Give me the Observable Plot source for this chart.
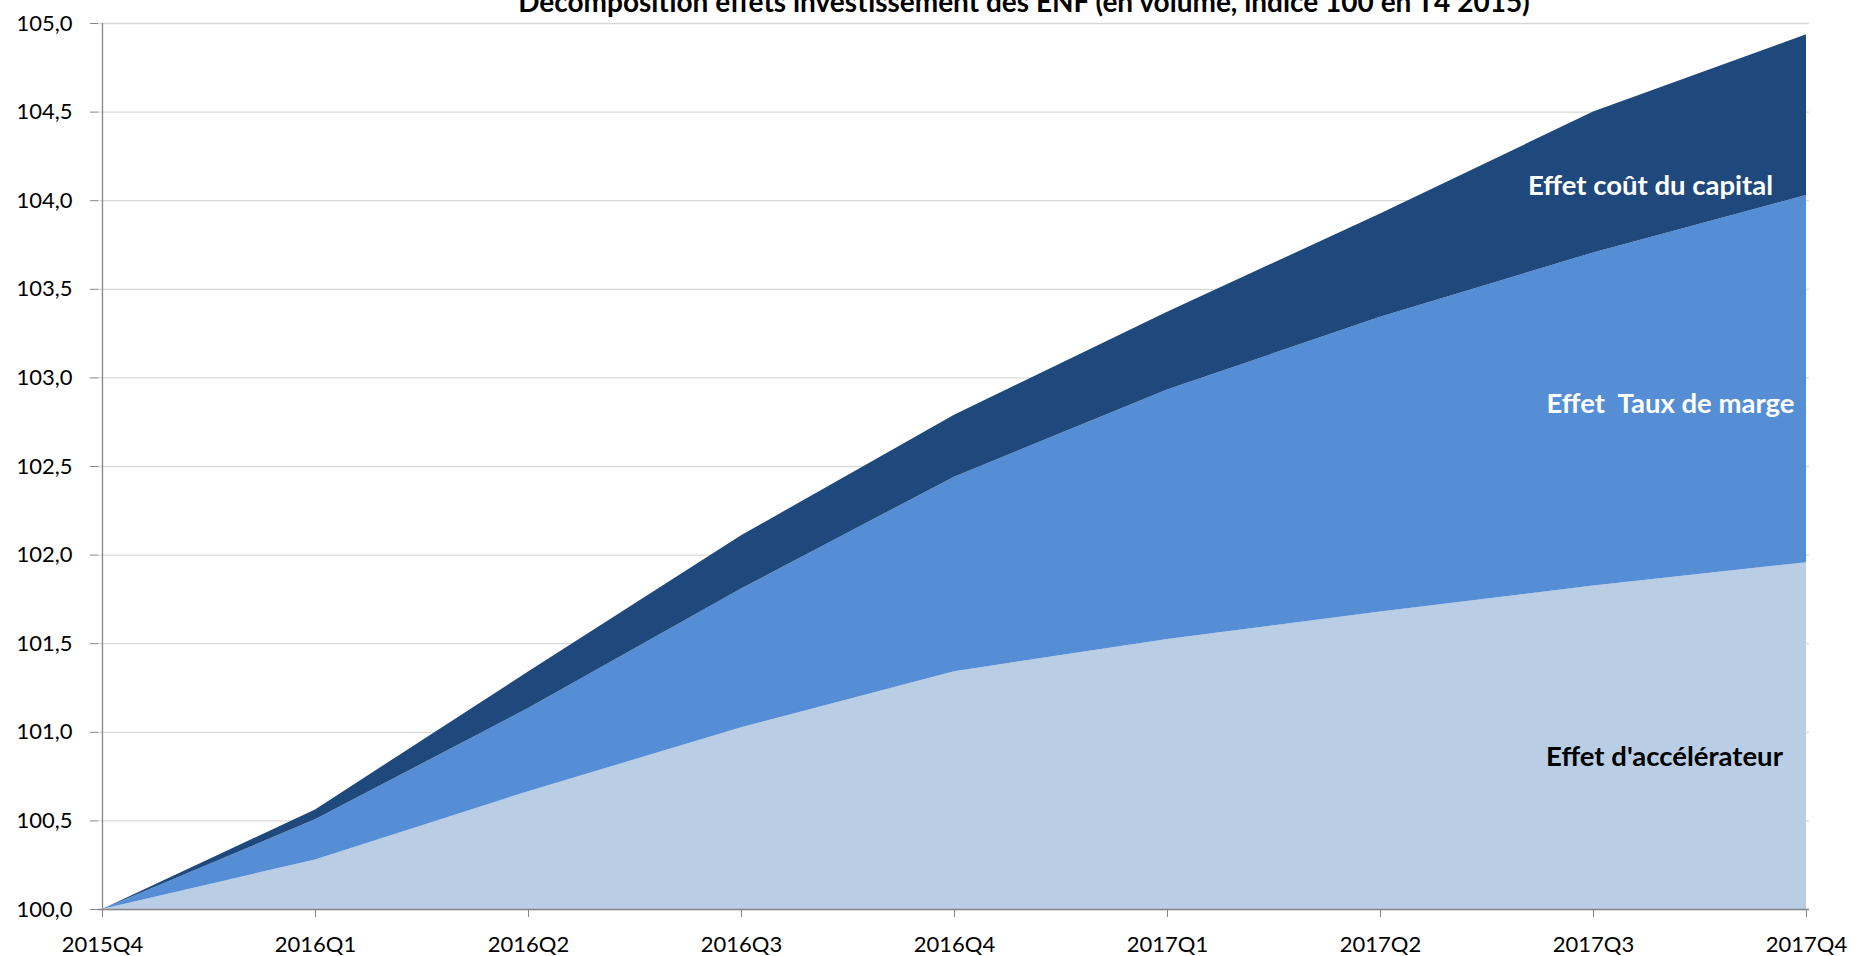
<!DOCTYPE html>
<html><head><meta charset="utf-8">
<script src="https://cdn.jsdelivr.net/npm/d3@7"></script>
<script src="https://cdn.jsdelivr.net/npm/@observablehq/plot@0.6"></script>
<style>
html,body{margin:0;padding:0;background:#fff;overflow:hidden;}
#wrap{position:relative;width:1858px;height:956px;}
#chart{position:absolute;top:0;left:0;width:1858px;height:956px;}
#chart svg{max-width:none !important;}
#title{position:absolute;top:-13px;left:1024px;transform:translateX(-50%);white-space:nowrap;font-family:Lato;font-weight:bold;font-size:28px;line-height:28px;color:#000;}
svg text{white-space:pre;}
</style></head><body>
<div id="wrap"><div id="chart"></div><div id="title">Décomposition effets investissement des ENF (en volume, indice 100 en T4 2015)</div></div>
<script>
const quarters = ["2015Q4","2016Q1","2016Q2","2016Q3","2016Q4","2017Q1","2017Q2","2017Q3","2017Q4"];
const effetAccelerateur = [0, 0.28, 0.665, 1.025, 1.342, 1.524, 1.679, 1.825, 1.957];
const effetTauxMarge    = [0, 0.226, 0.469, 0.783, 1.098, 1.408, 1.663, 1.880, 2.073];
const effetCoutCapital  = [0, 0.056, 0.206, 0.301, 0.349, 0.438, 0.583, 0.795, 0.906];
const seriesNames = ["Effet d'accélérateur", "Effet  Taux de marge", "Effet coût du capital"];
const seriesColors = ["#B9CDE5", "#558ED5", "#1F497D"];
const yTicks = [100, 100.5, 101, 101.5, 102, 102.5, 103, 103.5, 104, 104.5, 105];
const baseIndex = 100;

const seriesValues = [effetAccelerateur, effetTauxMarge, effetCoutCapital];
const rows = [];
quarters.forEach((q, i) => {
  let lo = baseIndex;
  seriesValues.forEach((s, k) => {
    const hi = lo + s[i];
    rows.push({quarter: q, series: seriesNames[k], y1: lo, y2: hi});
    lo = hi;
  });
});

const last = quarters[quarters.length - 1];
const labelFont = {fontFamily: "Lato", fontWeight: "bold", fontSize: 27.5, textAnchor: "middle", lineAnchor: "middle"};

const chart = Plot.plot({
  width: 1858, height: 956,
  marginLeft: 98, marginRight: 49, marginTop: 23, marginBottom: 47,
  style: {fontFamily: "Lato", fontSize: "22px", color: "#000", background: "#fff"},
  x: {type: "point", domain: quarters, padding: 0, label: null},
  y: {domain: [100, 105], label: null},
  color: {domain: seriesNames, range: seriesColors},
  marks: [
    Plot.ruleY(yTicks, {stroke: "#d9d9d9", strokeWidth: 1.3}),
    Plot.areaY(rows, {x: "quarter", y1: "y1", y2: "y2", z: "series", fill: "series"}),
    Plot.ruleX([quarters[0]], {stroke: "#868686", strokeWidth: 1.3}),
    Plot.ruleY([100], {stroke: "#868686", strokeWidth: 1.3}),
    Plot.axisY({ticks: yTicks, tickFormat: d => d.toFixed(1).replace(".", ","), tickSize: 8, tickPadding: 18, stroke: "#868686", fill: "#000", label: null}),
    Plot.axisX({tickSize: 8, tickPadding: 19, stroke: "#868686", fill: "#000", label: null}),
    Plot.text([seriesNames[2]], {x: () => last, y: () => 104.08, text: d => d, dx: -156, fill: "#fff", ...labelFont}),
    Plot.text([seriesNames[1]], {x: () => last, y: () => 102.85, text: d => d, dx: -136, fill: "#fff", ...labelFont}),
    Plot.text([seriesNames[0]], {x: () => last, y: () => 100.86, text: d => d, dx: -142, fill: "#000", ...labelFont})
  ]
});
document.getElementById("chart").appendChild(chart);
</script>
</body></html>
